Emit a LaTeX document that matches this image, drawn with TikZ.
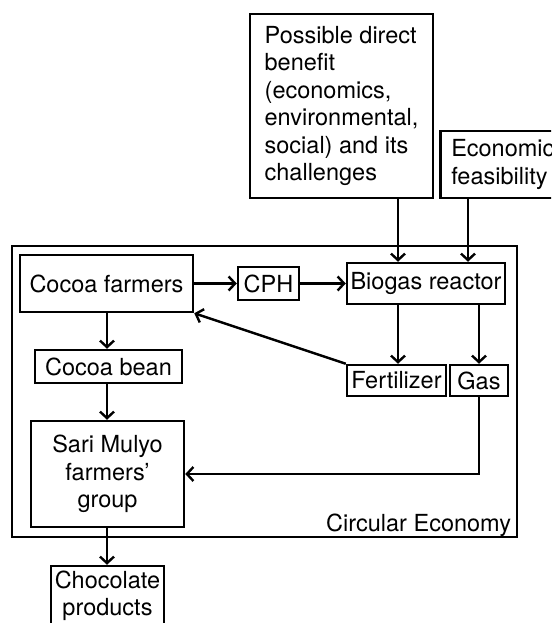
\documentclass[tikz,border=0pt]{standalone}
\usepackage{fontspec}
\setmainfont{TeX Gyre Heros}
\usetikzlibrary{arrows.meta,calc}
\tikzset{
  box/.style={draw, line width=2.5pt, inner sep=0pt, align=center,
    font=\fontsize{23.5}{27.5}\selectfont},
  arr/.style={line width=2.4pt, -{Straight Barb[length=6.5pt,width=14pt,line width=2.4pt]}},
  ln/.style={line width=2.4pt}
}
\begin{document}
\begin{tikzpicture}[x=1pt,y=-1pt]
\useasboundingbox (0,0) rectangle (551,623);
\clip (0,0) rectangle (551,623);
\fill[white] (0,0) rectangle (551,623);
% outer frame
\node[box, minimum width=505, minimum height=291] (frame) at (264.5,391.5) {};
\node[anchor=base east, font=\fontsize{23.5}{27.5}\selectfont, inner sep=0pt] (celabel) at ($(frame.south east)+(-7,-7)$) {Circular Economy};
% top boxes
\node[box, align=left, minimum width=183, minimum height=184] (poss) at (341.5,106)
  {Possible direct\\benefit\\(economics,\\environmental,\\social) and its\\challenges};
\node[box, align=left, anchor=west, text width=120, inner xsep=11pt, minimum height=67] (econ) at (439,164.5)
  {Economic\\feasibility};
% inner boxes
\node[box, minimum width=173, minimum height=57] (farmers) at (106.5,283.5) {Cocoa farmers};
\node[box, minimum width=61, minimum height=33] (cph) at (268.5,283.5) {CPH};
\node[box, minimum width=158, minimum height=41] (biogas) at (426,283.5) {Biogas reactor};
\node[box, minimum width=99, minimum height=31] (fert) at (396.5,380.5) {Fertilizer};
\node[box, minimum width=58, minimum height=31] (gas) at (479,380.5) {Gas};
\node[box, minimum width=147, minimum height=33] (bean) at (108.5,366.5) {Cocoa bean};
\node[box, minimum width=153, minimum height=106] (sari) at (107.5,474) {Sari Mulyo\\farmers’\\group};
\node[box, minimum width=113, minimum height=60] (choc) at (107.5,596) {Chocolate\\products};
% helper x positions
\coordinate (xa) at (398,0);
\coordinate (xb) at (468,0);
\coordinate (xc) at (107,0);
% connectors
\draw[arr] (farmers.east) -- (cph.west);
\draw[arr] (cph.east) -- (biogas.west);
\draw[arr] (poss.south -| xa) -- (biogas.north -| xa);
\draw[arr] (econ.south -| xb) -- (biogas.north -| xb);
\draw[arr] (biogas.south -| xa) -- (fert.north -| xa);
\draw[arr] (biogas.south -| gas.north) -- (gas.north);
\draw[arr] (fert.north west) -- (farmers.south east);
\draw[arr] (farmers.south -| xc) -- (bean.north -| xc);
\draw[arr] (bean.south -| xc) -- (sari.north -| xc);
\draw[arr] (gas.south) |- (sari.east);
\draw[arr] (sari.south -| xc) -- (choc.north -| xc);
\end{tikzpicture}
\end{document}
